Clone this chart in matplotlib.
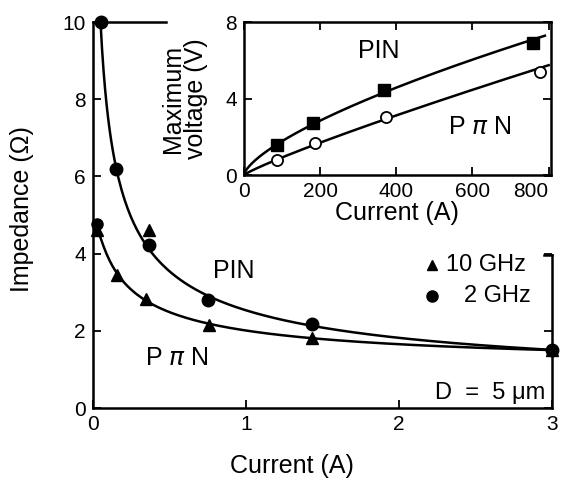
import numpy as np
import matplotlib.pyplot as plt

plt.rcParams['font.family'] = ['Liberation Sans', 'DejaVu Sans']

# main plot: impedance vs current
pin_x = [0.05, 0.15, 0.37, 0.75, 1.43, 3.0]
pin_y = [10.0, 6.2, 4.22, 2.8, 2.18, 1.5]
pin_tri_x = [0.37]
pin_tri_y = [4.6]

ppn_x = [0.03, 0.16, 0.35, 0.76, 1.43, 3.0]
ppn_y = [4.62, 3.45, 2.82, 2.15, 1.82, 1.5]
ppn_dot_x = [0.03]
ppn_dot_y = [4.78]

# inset: maximum voltage vs current
ins_pin_x = [87, 182, 368, 758]
ins_pin_y = [1.57, 2.72, 4.44, 6.9]
ins_ppn_x = [87, 187, 374, 776]
ins_ppn_y = [0.78, 1.67, 3.03, 5.39]


def loglog_curve(x, y, x0, x1, deg=2):
    c = np.polyfit(np.log(x), np.log(y), deg)
    xs = np.linspace(x0, x1, 300)
    return xs, np.exp(np.polyval(c, np.log(xs)))


fig = plt.figure(figsize=(5.63, 4.96), dpi=100)
ax = fig.add_axes([0.165, 0.1774, 0.815, 0.7782])

xs, ys = loglog_curve(pin_x, pin_y, pin_x[0], pin_x[-1], 3)
ax.plot(xs, ys, color='black', lw=1.8, clip_on=False)
xs, ys = loglog_curve(ppn_x, ppn_y, ppn_x[0], ppn_x[-1], 3)
ax.plot(xs, ys, color='black', lw=1.8, clip_on=False)

ax.plot(pin_x, pin_y, 'o', color='black', ms=9, clip_on=False)
ax.plot(pin_tri_x, pin_tri_y, '^', color='black', ms=8, clip_on=False)
ax.plot(ppn_x, ppn_y, '^', color='black', ms=8, clip_on=False)
ax.plot(ppn_dot_x, ppn_dot_y, 'o', color='black', ms=8, clip_on=False)

ax.set_xlim(0, 3)
ax.set_ylim(0, 10)
ax.set_xticks([0, 1, 2, 3])
ax.set_yticks([0, 2, 4, 6, 8, 10])
ax.tick_params(direction='in', length=6, width=1.3, labelsize=15, pad=5,
               right=True)
for s in ax.spines.values():
    s.set_linewidth(1.8)
ax.spines['top'].set_bounds(0, 0.48)
ax.spines['right'].set_bounds(0, 3.96)
ax.plot([2.95, 3.0], [3.96, 3.96], color='black', lw=1.8, clip_on=False)

ax.set_ylabel('Impedance (Ω)', fontsize=18)
ax.yaxis.set_label_coords(-0.128, 0.515)
ax.set_xlabel('Current (A)', fontsize=18)
ax.xaxis.set_label_coords(0.434, -0.12)

ax.text(0.92, 3.55, 'PIN', fontsize=18, ha='center', va='center')
ax.text(0.55, 1.3, 'P $\\pi$ N', fontsize=18, ha='center', va='center')
ax.text(2.96, 0.38, 'D  =  5 μm', fontsize=17, ha='right', va='center')

# legend
ax.plot([0.74], [0.37], '^', color='black', ms=7, transform=ax.transAxes,
        clip_on=False)
ax.text(0.77, 0.37, '10 GHz', fontsize=17, va='center', transform=ax.transAxes)
ax.plot([0.74], [0.29], 'o', color='black', ms=8, transform=ax.transAxes,
        clip_on=False)
ax.text(0.955, 0.29, '2 GHz', fontsize=17, va='center', ha='right',
        transform=ax.transAxes)

# inset
axi = fig.add_axes([0.433, 0.647, 0.545, 0.3086])
xs, ys = loglog_curve(ins_pin_x, ins_pin_y, 1, 790, 1)
axi.plot(np.r_[0, xs], np.r_[0, ys], color='black', lw=1.8)
xs, ys = loglog_curve(ins_ppn_x, ins_ppn_y, 1, 800, 1)
axi.plot(np.r_[0, xs], np.r_[0, ys], color='black', lw=1.8)
axi.plot(ins_pin_x, ins_pin_y, 's', color='black', ms=8, clip_on=False)
axi.plot(ins_ppn_x, ins_ppn_y, 'o', mfc='white', mec='black', mew=1.3,
         ms=8, clip_on=False)
axi.set_xlim(0, 805)
axi.set_ylim(0, 8)
axi.set_xticks([0, 200, 400, 600, 800])
axi.set_yticks([0, 4, 8])
axi.tick_params(direction='in', length=6, width=1.3, labelsize=15, pad=5,
                top=True, right=True)
axi.get_xticklabels()[-1].set_ha('right')
axi.get_xticklabels()[-1].set_x(812)
for s in axi.spines.values():
    s.set_linewidth(1.8)
axi.set_xlabel('Current (A)', fontsize=18, labelpad=0)
axi.set_ylabel('Maximum\nvoltage (V)', fontsize=18, labelpad=12,
               linespacing=0.95)
axi.text(355, 6.5, 'PIN', fontsize=18, ha='center', va='center')
axi.text(620, 2.5, 'P $\\pi$ N', fontsize=18, ha='center', va='center')

fig.savefig('out.png', dpi=100)
